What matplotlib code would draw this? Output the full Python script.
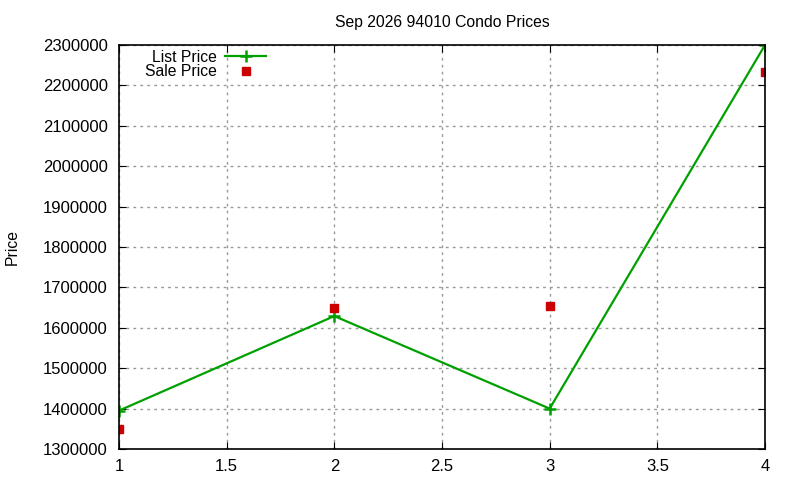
import matplotlib
matplotlib.use("Agg")
import matplotlib.pyplot as plt

plt.rcParams['font.family'] = ['Liberation Sans', 'DejaVu Sans']

months = [1, 2, 3, 4]
list_price = [1395000, 1629000, 1400000, 2300000]
sale_price = [1350000, 1650000, 1653000, 2233000]
x_ticks = [1, 1.5, 2, 2.5, 3, 3.5, 4]
y_ticks = list(range(1300000, 2300001, 100000))

fig = plt.figure(figsize=(8, 4.8), dpi=100)
ax = fig.add_axes([119/800, 31/480, 646/800, 404/480])

ax.plot(months, list_price, color='#00a000', lw=1.6, marker='+', ms=8, mew=1.8,
        label='List Price')
ax.plot(months, sale_price, color='#cc0000', ls='none', marker='s', ms=6,
        label='Sale Price')

ax.set_xlim(1, 4)
ax.set_ylim(1300000, 2300000)
ax.set_xticks(x_ticks)
ax.set_xticklabels(['1', '1.5', '2', '2.5', '3', '3.5', '4'])
ax.set_yticks(y_ticks)
ax.set_yticklabels([str(v) for v in y_ticks])
ax.tick_params(direction='in', top=True, right=True, labelsize=12, length=5)
ax.tick_params(axis='y', pad=8)
ax.tick_params(axis='x', pad=7)
ax.grid(True, color='#999999', ls=(0, (2, 3)), lw=1)
for s in ax.spines.values():
    s.set_linewidth(1.2)

ax.set_title('Sep 2026 94010 Condo Prices', fontsize=11.3, pad=13)
fig.text(12/800, 1 - 247/480, 'Price', rotation=90, fontsize=11.3,
         ha='center', va='center')

leg = ax.legend(loc='upper left', markerfirst=False, frameon=False,
                fontsize=11.3, handlelength=2.6, handletextpad=0.5,
                borderaxespad=0, borderpad=0, labelspacing=-0.05,
                bbox_to_anchor=(0.041, 0.988))
for t in leg.get_texts():
    t.set_ha('right')

fig.savefig('out.png', dpi=100)
